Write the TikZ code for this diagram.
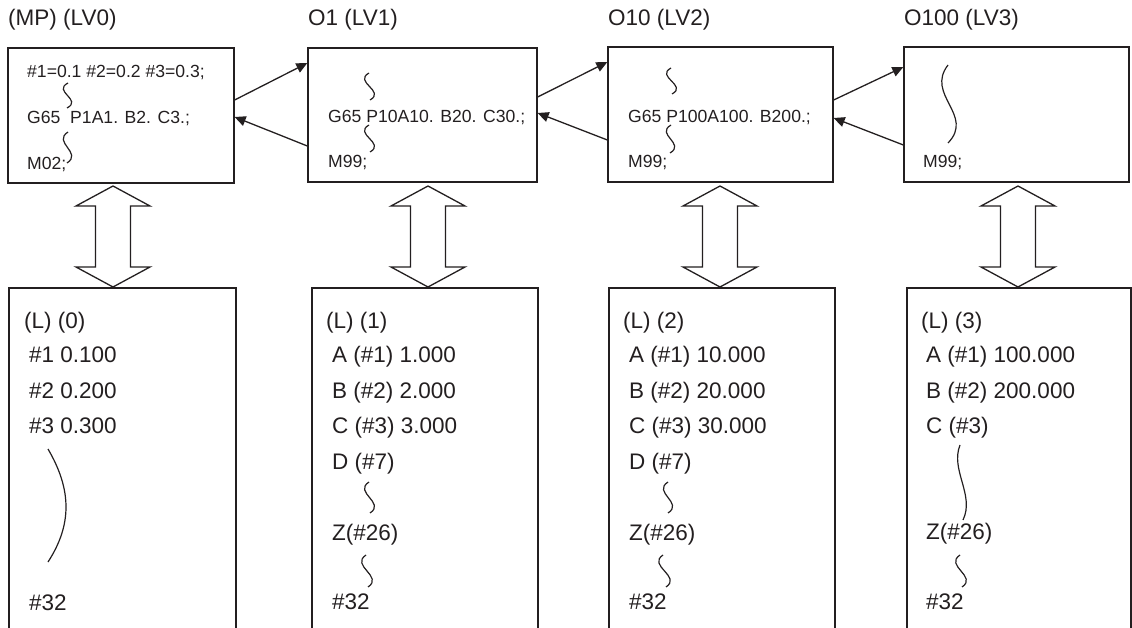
\documentclass[tikz,border=0pt]{standalone}
\usepackage{fontspec}
\setmainfont{Liberation Sans}
\usetikzlibrary{arrows.meta}
\definecolor{ink}{HTML}{231F20}
\newcommand\mywig[4]{\draw[wig] (#1,#2) .. controls (#1-16,{#2+(#4-#2)/3}) and (#3+16,{#2+2*(#4-#2)/3}) .. (#3,#4);}
\newcommand\updown[1]{\draw[dbl] (#1,186) -- (#1+37,206) -- (#1+17.5,206) -- (#1+17.5,267) -- (#1+37,267) -- (#1,287) -- (#1-37,267) -- (#1-17.5,267) -- (#1-17.5,206) -- (#1-37,206) -- cycle;}
\tikzset{
  progbox/.style={draw=ink, line width=1.3pt, rectangle, inner sep=0pt},
  title/.style={anchor=base west, inner sep=0pt, text=ink, font=\fontsize{22.5}{27}\selectfont},
  code/.style={anchor=base west, inner sep=0pt, text=ink, font=\fontsize{17.6}{21}\selectfont},
  var/.style={anchor=base west, inner sep=0pt, text=ink, font=\fontsize{22.5}{27}\selectfont},
  conn/.style={draw=ink, line width=1.3pt, -{Triangle[length=11pt,width=10pt]}},
  wig/.style={draw=ink, line width=1.2pt},
  dbl/.style={draw=ink, line width=1.3pt, fill=white},
}
\begin{document}
\begin{tikzpicture}[x=1pt,y=-1pt]
\useasboundingbox (0,0) rectangle (1132,628);
\clip (0,0) rectangle (1132,628);

% titles
\node[title] (t0) at (8,26) {(MP) (LV0)};
\node[title] (t1) at (308,26) {O1 (LV1)};
\node[title] (t2) at (608,26) {O10 (LV2)};
\node[title] (t3) at (904,26) {O100 (LV3)};

% upper program boxes
\node[progbox, minimum width=226pt, minimum height=135pt] (b0) at (121,115.5) {};
\node[progbox, minimum width=229pt, minimum height=134pt] (b1) at (422.5,115) {};
\node[progbox, minimum width=225pt, minimum height=135pt] (b2) at (720.5,114.5) {};
\node[progbox, minimum width=225pt, minimum height=135pt] (b3) at (1016.5,114.5) {};

% program texts
\node[code] (c0a) at (27,78) {\#1=0.1 \#2=0.2 \#3=0.3;};
\node[code] (c0b) at (27,124) {G65\ \ P1A1. B2. C3.;};
\node[code] (c0c) at (27,170) {M02;};
\node[code] (c1a) at (328,123) {G65 P10A10. B20. C30.;};
\node[code] (c1b) at (328,168) {M99;};
\node[code] (c2a) at (628,123) {G65 P100A100. B200.;};
\node[code] (c2b) at (628,168) {M99;};
\node[code] (c3b) at (923,168) {M99;};

% wiggles in program boxes
\mywig{68}{83}{67}{108}
\mywig{68}{132}{67}{163}
\mywig{369}{73}{370}{100}
\mywig{369}{125}{370}{152}
\mywig{671}{68}{672}{94}
\mywig{671}{125}{670}{153}
\draw[wig] (948,65) .. controls (925,95) and (975,115) .. (948,143);

% call / return connectors
\draw[conn] ([yshift=15.5pt]b0.east) -- ([yshift=52pt]b1.west);
\draw[conn] ([yshift=-31pt]b1.west) -- ([yshift=-1.5pt]b0.east);
\draw[conn] ([yshift=18pt]b1.east) -- ([yshift=52.5pt]b2.west);
\draw[conn] ([yshift=-25.5pt]b2.west) -- ([yshift=2pt]b1.east);
\draw[conn] ([yshift=14.5pt]b2.east) -- ([yshift=47.5pt]b3.west);
\draw[conn] ([yshift=-30.5pt]b3.west) -- ([yshift=-3.5pt]b2.east);

% lower variable boxes (open at the bottom)
\node[progbox, minimum width=227pt, minimum height=400pt] (l0) at (122.5,488) {};
\node[progbox, minimum width=226pt, minimum height=400pt] (l1) at (425,488) {};
\node[progbox, minimum width=226pt, minimum height=400pt] (l2) at (722,488) {};
\node[progbox, minimum width=224pt, minimum height=400pt] (l3) at (1019,488) {};

% double arrows
\updown{113}
\updown{428}
\updown{720}
\updown{1018}

% level 0 variables
\node[var] (v0h) at (24,328) {(L) (0)};
\node[var] (v0a) at (29,362) {\#1 0.100};
\node[var] (v0b) at (29,398) {\#2 0.200};
\node[var] (v0c) at (29,433) {\#3 0.300};
\node[var] (v0z) at (29,610) {\#32};
\draw[wig] (48,449) .. controls (72,490) and (72,525) .. (48,562);

% level 1 variables
\node[var] (v1h) at (326,328) {(L) (1)};
\node[var] (v1a) at (332,362) {A (\#1) 1.000};
\node[var] (v1b) at (332,398) {B (\#2) 2.000};
\node[var] (v1c) at (332,433) {C (\#3) 3.000};
\node[var] (v1d) at (332,469) {D (\#7)};
\node[var] (v1e) at (332,540) {Z(\#26)};
\node[var] (v1z) at (332,609) {\#32};
\mywig{369}{482}{370}{513}
\mywig{366}{555}{368}{587}

% level 2 variables
\node[var] (v2h) at (623,328) {(L) (2)};
\node[var] (v2a) at (629,362) {A (\#1) 10.000};
\node[var] (v2b) at (629,398) {B (\#2) 20.000};
\node[var] (v2c) at (629,433) {C (\#3) 30.000};
\node[var] (v2d) at (629,469) {D (\#7)};
\node[var] (v2e) at (629,540) {Z(\#26)};
\node[var] (v2z) at (629,609) {\#32};
\mywig{668}{482}{668}{513}
\mywig{663}{555}{666}{587}

% level 3 variables
\node[var] (v3h) at (921,328) {(L) (3)};
\node[var] (v3a) at (926,362) {A (\#1) 100.000};
\node[var] (v3b) at (926,398) {B (\#2) 200.000};
\node[var] (v3c) at (926,433) {C (\#3)};
\node[var] (v3e) at (926,539) {Z(\#26)};
\node[var] (v3z) at (926,609) {\#32};
\draw[wig] (960,445) .. controls (950,470) and (975,495) .. (963,520);
\mywig{960}{555}{962}{587}
\end{tikzpicture}
\end{document}
